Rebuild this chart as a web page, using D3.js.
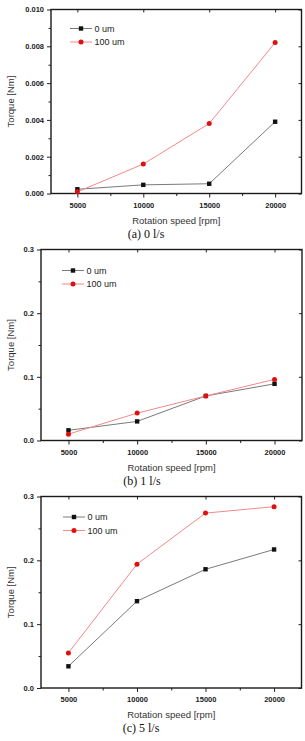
<!DOCTYPE html>
<html>
<head>
<meta charset="utf-8">
<script src="https://cdn.jsdelivr.net/npm/d3@7"></script>
<style>
  body { margin: 0; background: #fff; }
  svg { display: block; }
</style>
</head>
<body>
<div id="viz"></div>
<script>
var speeds = [5000, 10000, 15000, 20000];
var seriesNames = ["0 um", "100 um"];

// panel (a) 0 l/s
var a_0um = [0.00023, 0.00047, 0.00053, 0.0039];
var a_100um = [0.00009, 0.0016, 0.0038, 0.0082];
// panel (b) 1 l/s
var b_0um = [0.016, 0.030, 0.070, 0.089];
var b_100um = [0.010, 0.043, 0.070, 0.096];
// panel (c) 5 l/s
var c_0um = [0.034, 0.136, 0.186, 0.217];
var c_100um = [0.055, 0.194, 0.274, 0.284];

var captions = ["(a) 0 l/s", "(b) 1 l/s", "(c) 5 l/s"];
var yTicksA = [0, 0.002, 0.004, 0.006, 0.008, 0.010];
var yTicksBC = [0, 0.1, 0.2, 0.3];

var svg = d3.select('#viz').append('svg')
    .attr('width', 305)
    .attr('height', 741);

var panels = [
    {series: [a_0um, a_100um], cap: captions[0], capX: 146, left: 51, right: 301.5, top: 9.5, bottom: 193.5,
     ymax: 0.010, ticks: yTicksA, minor: 0.001, fmt: d3.format('.3f'), leg: {x: 70, y: 28.5}},
    {series: [b_0um, b_100um], cap: captions[1], capX: 142, left: 41, right: 302, top: 249.5, bottom: 440.5,
     ymax: 0.3, ticks: yTicksBC, minor: 0.05, fmt: d3.format('.1f'), leg: {x: 62, y: 270.5}},
    {series: [c_0um, c_100um], cap: captions[2], capX: 141, left: 41, right: 301.5, top: 496.5, bottom: 688,
     ymax: 0.3, ticks: yTicksBC, minor: 0.05, fmt: d3.format('.1f'), leg: {x: 63, y: 517}}
];

var lineColors = ['#7a7a7a', '#f08a8a'];
var markColors = ['#111', '#e01010'];
var sans = 'Liberation Sans, Arial, sans-serif';

panels.forEach(function(p) {
    var x = d3.scaleLinear().domain([3000, 22000]).range([p.left, p.right]);
    var y = d3.scaleLinear().domain([0, p.ymax]).range([p.bottom, p.top]);
    var minorY = d3.range(p.minor, p.ymax, p.minor * 2);
    var minorX = [7500, 12500, 17500];

    var g = svg.append('g');

    // bottom axis
    g.append('g')
        .attr('transform', 'translate(0,' + p.bottom + ')')
        .call(d3.axisBottom(x).tickValues(speeds).tickSize(4).tickFormat(d3.format('d')))
        .call(function(s) {
            s.select('.domain').remove();
            s.selectAll('text').attr('font-size', '7.5px').attr('font-weight', 'bold')
                .attr('font-family', sans).attr('fill', '#222').attr('dy', '0.95em');
        });
    g.append('g')
        .attr('transform', 'translate(0,' + p.bottom + ')')
        .call(d3.axisBottom(x).tickValues(minorX).tickSize(2.5).tickFormat(''))
        .call(function(s) { s.select('.domain').remove(); });

    // left axis
    g.append('g')
        .attr('transform', 'translate(' + p.left + ',0)')
        .call(d3.axisLeft(y).tickValues(p.ticks).tickSize(4).tickFormat(p.fmt))
        .call(function(s) {
            s.select('.domain').remove();
            s.selectAll('text').attr('font-size', '7.5px').attr('font-weight', 'bold')
                .attr('font-family', sans).attr('fill', '#222');
        });
    g.append('g')
        .attr('transform', 'translate(' + p.left + ',0)')
        .call(d3.axisLeft(y).tickValues(minorY).tickSize(2.5).tickFormat(''))
        .call(function(s) { s.select('.domain').remove(); });

    // mirrored ticks top and right (inward)
    g.append('g')
        .attr('transform', 'translate(0,' + p.top + ')')
        .call(d3.axisBottom(x).tickValues(speeds).tickSize(3).tickFormat(''))
        .call(function(s) { s.select('.domain').remove(); });
    g.append('g')
        .attr('transform', 'translate(' + p.right + ',0)')
        .call(d3.axisLeft(y).tickValues(p.ticks).tickSize(3).tickFormat(''))
        .call(function(s) { s.select('.domain').remove(); });

    g.selectAll('.tick line').attr('stroke', '#222').attr('stroke-width', 1);

    // frame
    g.append('rect')
        .attr('x', p.left).attr('y', p.top)
        .attr('width', p.right - p.left).attr('height', p.bottom - p.top)
        .attr('fill', 'none').attr('stroke', '#1a1a1a').attr('stroke-width', 1.4);

    // series
    p.series.forEach(function(vals, k) {
        var line = d3.line()
            .x(function(d, i) { return x(speeds[i]); })
            .y(function(d) { return y(d); });
        g.append('path').datum(vals)
            .attr('d', line).attr('fill', 'none')
            .attr('stroke', lineColors[k]).attr('stroke-width', 1);
        if (k === 0) {
            g.selectAll('.sq').data(vals).enter().append('rect')
                .attr('x', function(d, i) { return x(speeds[i]) - 2.2; })
                .attr('y', function(d) { return y(d) - 2.2; })
                .attr('width', 4.4).attr('height', 4.4)
                .attr('fill', markColors[0]);
        } else {
            g.selectAll('.ci').data(vals).enter().append('circle')
                .attr('cx', function(d, i) { return x(speeds[i]); })
                .attr('cy', function(d) { return y(d); })
                .attr('r', 2.5)
                .attr('fill', markColors[1]);
        }
    });

    // legend
    seriesNames.forEach(function(name, k) {
        var ly = p.leg.y + k * 13.5;
        g.append('line')
            .attr('x1', p.leg.x).attr('x2', p.leg.x + 22)
            .attr('y1', ly).attr('y2', ly)
            .attr('stroke', lineColors[k]).attr('stroke-width', 1);
        if (k === 0) {
            g.append('rect').attr('x', p.leg.x + 11 - 2.2).attr('y', ly - 2.2)
                .attr('width', 4.4).attr('height', 4.4).attr('fill', markColors[0]);
        } else {
            g.append('circle').attr('cx', p.leg.x + 11).attr('cy', ly).attr('r', 2.5)
                .attr('fill', markColors[1]);
        }
        g.append('text')
            .attr('x', p.leg.x + 24.5).attr('y', ly + 3.3)
            .attr('font-size', '9px').attr('font-family', sans)
            .attr('fill', '#222').text(name);
    });

    // axis titles
    g.append('text')
        .attr('x', (p.left + p.right) / 2).attr('y', p.bottom + 30)
        .attr('text-anchor', 'middle')
        .attr('font-size', '9.5px').attr('font-family', sans)
        .attr('fill', '#333').text('Rotation speed [rpm]');
    g.append('text')
        .attr('transform', 'translate(14,' + ((p.top + p.bottom) / 2) + ') rotate(-90)')
        .attr('text-anchor', 'middle')
        .attr('font-size', '9.5px').attr('font-family', sans)
        .attr('fill', '#333').text('Torque [Nm]');

    // caption
    g.append('text')
        .attr('x', p.capX).attr('y', p.bottom + 44)
        .attr('text-anchor', 'middle')
        .attr('font-size', '12px').attr('font-family', 'Liberation Serif, Times New Roman, serif')
        .attr('fill', '#111').text(p.cap);
});
</script>
</body>
</html>
